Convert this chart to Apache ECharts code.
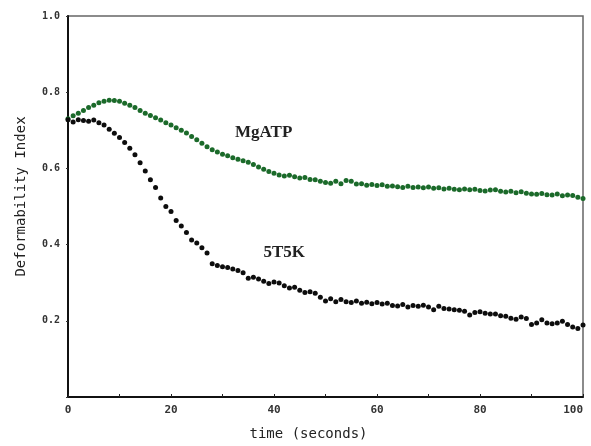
<!DOCTYPE html>
<html lang="en" style="height: 100%">
<head>
  <meta charset="utf-8">
</head>
<body style="height: 100%; margin: 0; background: #fff">
  <div id="container" style="width: 591px; height: 446px"></div>

  <script type="text/javascript" src="https://fastly.jsdelivr.net/npm/echarts@6/dist/echarts.min.js"></script>

  <script type="text/javascript">
    // time in seconds, one reading per second
    const tempo = [];
    for (let i = 0; i <= 100; i++) tempo.push(i);

    const mgatp = [
      0.730, 0.738, 0.745, 0.752, 0.760, 0.766, 0.772, 0.776, 0.779, 0.778,
      0.776, 0.771, 0.766, 0.760, 0.752, 0.745, 0.739, 0.733, 0.727, 0.720,
      0.714, 0.707, 0.700, 0.693, 0.684, 0.675, 0.666, 0.657, 0.649, 0.643,
      0.637, 0.633, 0.628, 0.624, 0.620, 0.616, 0.610, 0.604, 0.598, 0.592,
      0.587, 0.583, 0.580, 0.582, 0.578, 0.575, 0.576, 0.571, 0.570, 0.566,
      0.563, 0.561, 0.566, 0.560, 0.568, 0.566, 0.559, 0.560, 0.556, 0.558,
      0.555, 0.557, 0.553, 0.554, 0.552, 0.550, 0.553, 0.550, 0.551, 0.549,
      0.551, 0.548, 0.549, 0.546, 0.548, 0.545, 0.544, 0.546, 0.544, 0.545,
      0.542, 0.541, 0.543, 0.544, 0.540, 0.538, 0.540, 0.536, 0.539, 0.535,
      0.533, 0.532, 0.534, 0.531, 0.530, 0.533, 0.528, 0.530, 0.529, 0.524,
      0.521
    ];

    const t5k = [
      0.728, 0.722, 0.728, 0.726, 0.724, 0.727, 0.720, 0.714, 0.703, 0.692,
      0.681, 0.668, 0.653, 0.636, 0.615, 0.593, 0.570, 0.550, 0.522, 0.500,
      0.487, 0.463, 0.449, 0.432, 0.412, 0.404, 0.392, 0.378, 0.350, 0.345,
      0.342, 0.340, 0.336, 0.332, 0.326, 0.312, 0.314, 0.310, 0.304, 0.298,
      0.302, 0.299, 0.292, 0.286, 0.288, 0.280, 0.274, 0.276, 0.272, 0.262,
      0.252, 0.258, 0.250, 0.256, 0.250, 0.248, 0.252, 0.246, 0.249, 0.245,
      0.248, 0.244, 0.246, 0.240, 0.239, 0.243, 0.236, 0.240, 0.238, 0.241,
      0.236, 0.229, 0.238, 0.232, 0.231, 0.229, 0.228, 0.225, 0.215, 0.222,
      0.224, 0.220, 0.218, 0.218, 0.213, 0.212, 0.207, 0.204, 0.210, 0.206,
      0.190, 0.194, 0.203, 0.194, 0.192, 0.194, 0.199, 0.190, 0.184, 0.180,
      0.189
    ];

    // where the curve names sit, in data units [time, index]
    const rotuloMg = [38, 0.693];
    const rotulo5t = [42, 0.378];

    const fonteEixo = '"DejaVu Sans Mono", monospace';

    var dom = document.getElementById('container');
    var myChart = echarts.init(dom, null, { renderer: 'canvas' });

    var option = {
      animation: false,
      backgroundColor: '#fff',
      grid: {
        left: 68, right: 8, top: 16, bottom: 49,
        outerBoundsMode: 'none',
        containLabel: false,
        show: true,
        borderColor: '#666',
        borderWidth: 1.5
      },
      xAxis: {
        type: 'value',
        min: 0, max: 100, interval: 10,
        name: 'time (seconds)',
        nameLocation: 'middle',
        nameGap: 30,
        nameTextStyle: { fontFamily: fonteEixo, fontSize: 14, color: '#222', padding: [0, 34, 0, 0] },
        axisLine: { lineStyle: { color: '#111', width: 2 } },
        axisTick: { inside: true, length: 3, lineStyle: { color: '#222' } },
        splitLine: { show: false },
        axisLabel: {
          fontFamily: fonteEixo, fontSize: 11, fontWeight: 'bold', color: '#333', margin: 8,
          alignMaxLabel: 'right',
          formatter: v => (v % 20 === 0 ? String(v) : '')
        }
      },
      yAxis: {
        type: 'value',
        min: 0, max: 1, interval: 0.2,
        name: 'Deformability Index',
        nameLocation: 'middle',
        nameGap: 40,
        nameTextStyle: { fontFamily: fonteEixo, fontSize: 14, color: '#222', padding: [0, 0, 0, 20] },
        axisLine: { lineStyle: { color: '#111', width: 2 } },
        axisTick: { length: 2, lineStyle: { color: '#333' } },
        splitLine: { show: false },
        axisLabel: {
          fontFamily: fonteEixo, fontSize: 10, fontWeight: 'bold', color: '#333', margin: 8,
          formatter: v => (v === 0 ? '' : v.toFixed(1))
        }
      },
      series: [
        {
          name: 'MgATP',
          type: 'scatter',
          symbolSize: 5,
          itemStyle: { color: '#1b6a2a', opacity: 1 },
          data: tempo.map((t, i) => [t, mgatp[i]]),
          markPoint: {
            symbol: 'circle', symbolSize: 0,
            label: {
              show: true, formatter: 'MgATP', color: '#222',
              fontFamily: '"Liberation Serif", serif', fontWeight: 'bold', fontSize: 17
            },
            data: [{ coord: rotuloMg }]
          }
        },
        {
          name: '5T5K',
          type: 'scatter',
          symbolSize: 5,
          itemStyle: { color: '#0d0d0d', opacity: 1 },
          data: tempo.map((t, i) => [t, t5k[i]]),
          markPoint: {
            symbol: 'circle', symbolSize: 0,
            label: {
              show: true, formatter: '5T5K', color: '#222',
              fontFamily: '"Liberation Serif", serif', fontWeight: 'bold', fontSize: 17
            },
            data: [{ coord: rotulo5t }]
          }
        }
      ]
    };

    myChart.setOption(option);
    window.addEventListener('resize', myChart.resize);
  </script>
</body>
</html>
